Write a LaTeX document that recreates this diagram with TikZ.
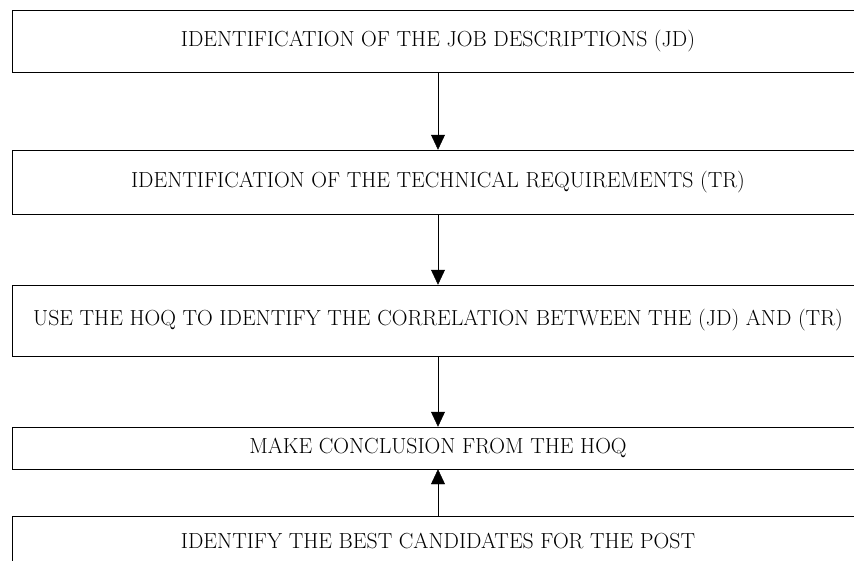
\documentclass[tikz,border=0pt]{standalone}
\usepackage{tikz}
\usetikzlibrary{arrows.meta, positioning}

\tikzset{
    stepbox/.style={draw, thin, inner sep=0pt, minimum width=852*0.03cm,
        font=\fontsize{18.6}{21}\selectfont},
    flow/.style={-{Triangle[width=14*0.03cm, length=15*0.03cm]}, thin}
}

\begin{document}
\begin{tikzpicture}[x=0.03cm, y=-0.03cm]
                    \useasboundingbox (0, 0) rectangle (854, 561);
                    \clip (0, 0) rectangle (854, 561);

                    \node[stepbox, minimum height=62*0.03cm] (jd) at (438, 41) {IDENTIFICATION OF THE JOB DESCRIPTIONS (JD)};
                    \node[stepbox, minimum height=64*0.03cm] (tr) at (438, 182) {IDENTIFICATION OF THE TECHNICAL REQUIREMENTS (TR)};
                    \node[stepbox, minimum height=71*0.03cm] (hoq) at (438, 320.5) {USE THE HOQ TO IDENTIFY THE CORRELATION BETWEEN THE (JD) AND (TR)};
                    \node[stepbox, minimum height=42*0.03cm] (concl) at (438, 448) {MAKE CONCLUSION FROM THE HOQ};
                    \node[stepbox, minimum height=50*0.03cm] (best) at (438, 541) {IDENTIFY THE BEST CANDIDATES FOR THE POST};

                    \draw
                    (jd) edge[flow] (tr)
                    (tr) edge[flow] (hoq)
                    (hoq) edge[flow] (concl)
                    (best) edge[flow] (concl);
\end{tikzpicture}
\end{document}
